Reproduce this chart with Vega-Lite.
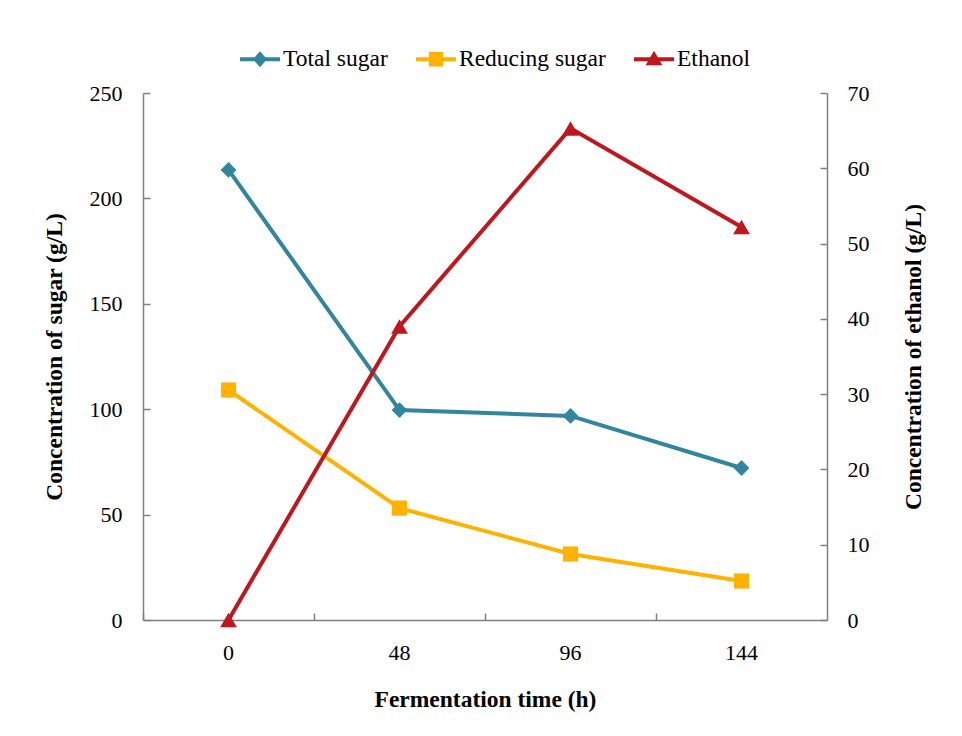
{
  "$schema": "https://vega.github.io/schema/vega-lite/v6.json",
  "width": 684,
  "height": 527,
  "autosize": "none",
  "padding": {"left": 143, "top": 93, "right": 135, "bottom": 116},
  "background": "white",
  "config": {
    "view": {"stroke": null},
    "font": "Liberation Serif",
    "axis": {"grid": false, "domainColor": "#808080", "tickColor": "#808080", "domainWidth": 1.5, "tickWidth": 1.5, "labelFont": "Liberation Serif", "labelFontSize": 22, "labelColor": "black", "titleFont": "Liberation Serif", "titleFontSize": 23.5, "titleFontWeight": "bold", "titleColor": "black"}
  },
  "data": {
    "values": [
      {"time": "0", "series": "Total sugar", "value": 213.5},
      {"time": "48", "series": "Total sugar", "value": 99.6},
      {"time": "96", "series": "Total sugar", "value": 96.8},
      {"time": "144", "series": "Total sugar", "value": 72.1},
      {"time": "0", "series": "Reducing sugar", "value": 109.1},
      {"time": "48", "series": "Reducing sugar", "value": 53.1},
      {"time": "96", "series": "Reducing sugar", "value": 31.3},
      {"time": "144", "series": "Reducing sugar", "value": 18.5},
      {"time": "0", "series": "Ethanol", "value": 0},
      {"time": "48", "series": "Ethanol", "value": 39.0},
      {"time": "96", "series": "Ethanol", "value": 65.3},
      {"time": "144", "series": "Ethanol", "value": 52.2}
    ]
  },
  "layer": [
    {
      "transform": [{"filter": "datum.series !== 'Ethanol'"}],
      "encoding": {
        "x": {"field": "time", "type": "ordinal", "sort": ["0", "48", "96", "144"], "scale": {"type": "band", "paddingInner": 0, "paddingOuter": 0},
          "axis": {"orient": "bottom", "labels": false, "title": null, "bandPosition": 0, "tickSize": -7}},
        "y": {"field": "value", "type": "quantitative", "scale": {"domain": [0, 250]},
          "axis": {"orient": "left", "values": [0, 50, 100, 150, 200, 250], "tickSize": -7, "labelPadding": 28, "title": "Concentration of sugar (g/L)", "titlePadding": 23}},
        "color": {"field": "series", "type": "nominal", "scale": {"domain": ["Total sugar", "Reducing sugar", "Ethanol"], "range": ["#31859C", "#FFB300", "#C0161D"]},
          "legend": {"orient": "none", "legendX": 97, "legendY": -54, "direction": "horizontal", "title": null, "labelFont": "Liberation Serif", "labelFontSize": 23.5, "labelColor": "black", "symbolSize": 1600, "columnPadding": 28, "labelOffset": 3, "symbolStrokeWidth": 0,
            "encode": {"symbols": {"update": {
              "shape": {"signal": "datum.value === 'Total sugar' ? 'M-1,-0.1L1,-0.1L1,0.1L-1,0.1Z M0,-0.4L0.35,0L0,0.4L-0.35,0Z' : datum.value === 'Reducing sugar' ? 'M-1,-0.1L1,-0.1L1,0.1L-1,0.1Z M-0.36,-0.36L0.36,-0.36L0.36,0.36L-0.36,0.36Z' : 'M-1,-0.1L1,-0.1L1,0.1L-1,0.1Z M0,-0.42L0.42,0.3L-0.42,0.3Z'"},
              "fill": {"scale": "color", "field": "value"},
              "strokeWidth": {"value": 0},
              "opacity": {"value": 1}
            }}}}
        }
      },
      "layer": [
        {"mark": {"type": "line", "strokeWidth": 4}},
        {"transform": [{"filter": "datum.series === 'Total sugar'"}],
          "mark": {"type": "point", "shape": "diamond", "filled": true, "opacity": 1, "size": 250}},
        {"transform": [{"filter": "datum.series === 'Reducing sugar'"}],
          "mark": {"type": "point", "shape": "square", "filled": true, "opacity": 1, "size": 230}}
      ]
    },
    {
      "transform": [{"filter": "datum.series === 'Ethanol'"}],
      "encoding": {
        "x": {"field": "time", "type": "ordinal", "sort": ["0", "48", "96", "144"], "scale": {"type": "band", "paddingInner": 0, "paddingOuter": 0},
          "axis": {"orient": "bottom", "ticks": false, "domain": false, "labelAngle": 0, "labelPadding": 22, "title": "Fermentation time (h)", "titlePadding": 24}},
        "y": {"field": "value", "type": "quantitative", "scale": {"domain": [0, 70]},
          "axis": {"orient": "right", "values": [0, 10, 20, 30, 40, 50, 60, 70], "tickSize": -7, "labelPadding": 27, "title": "Concentration of ethanol (g/L)", "titleAngle": 270, "titlePadding": 56}},
        "color": {"field": "series", "type": "nominal"}
      },
      "layer": [
        {"mark": {"type": "line", "strokeWidth": 4}},
        {"mark": {"type": "point", "shape": "triangle-up", "filled": true, "opacity": 1, "size": 280}}
      ]
    }
  ],
  "resolve": {"scale": {"y": "independent"}, "axis": {"x": "independent"}}
}
